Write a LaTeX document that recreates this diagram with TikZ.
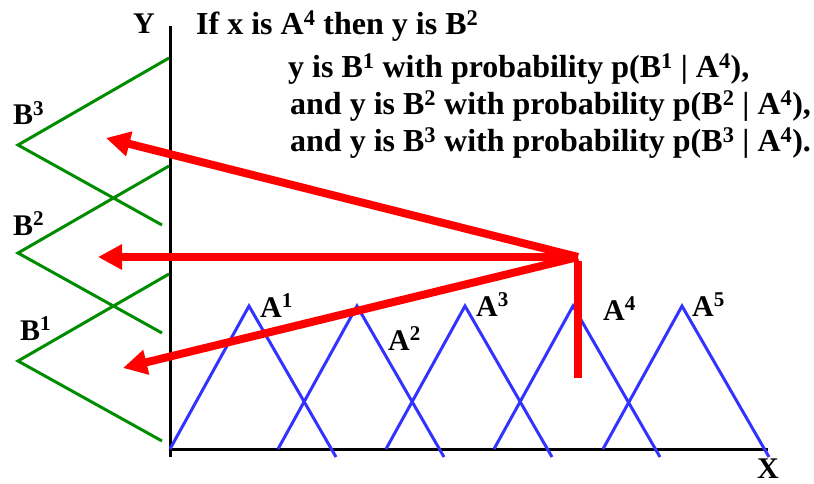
\documentclass[tikz,border=0pt]{standalone}
\usepackage{fontspec}
\setmainfont{Liberation Serif}
\usepackage{tikz}
\usetikzlibrary{arrows.meta, positioning}

\definecolor{setblue}{RGB}{51,51,255}
\definecolor{setgreen}{RGB}{0,140,0}

\tikzset{
    txt/.style={inner sep=0pt, anchor=base west, font=\bfseries\fontsize{32}{37}\selectfont},
    lbl/.style={inner sep=0pt, anchor=base west, font=\bfseries\fontsize{30}{34}\selectfont},
    axis/.style={line width=3pt},
    setA/.style={line width=3pt, setblue},
    setB/.style={line width=3pt, setgreen},
    redline/.style={line width=8pt, red},
    redarrow/.style={line width=8pt, red, -{Triangle[length=24pt, width=24pt]}}
}

\begin{document}
\begin{tikzpicture}[x=1pt, y=-1pt]
    \useasboundingbox (0,0) rectangle (814,484);
    % axes
    \draw[axis] (170,26) -- (170,457);
    \draw[axis] (170,449) -- (768,449);
    \node[lbl] (ylab) at (133,34) {Y};
    \node[lbl, anchor=north west] (xlab) at (757,459) {X};

    % fuzzy sets on x
    \foreach \p in {249,357,465,573,682}
        \draw[setA] (\p-79,449) -- (\p,306) -- (\p+87,457);
    \node[lbl] (A1) at (260,317) {A\textsuperscript{1}};
    \node[lbl] (A2) at (388,350) {A\textsuperscript{2}};
    \node[lbl] (A3) at (476,316) {A\textsuperscript{3}};
    \node[lbl] (A4) at (603,320) {A\textsuperscript{4}};
    \node[lbl] (A5) at (692,316) {A\textsuperscript{5}};

    % fuzzy sets on y
    \foreach \c in {145,253,361}
        \draw[setB] (169,\c-87) -- (18,\c) -- (162,\c+80);
    \node[lbl] (B3) at (13,125) {B\textsuperscript{3}};
    \node[lbl] (B2) at (13,235) {B\textsuperscript{2}};
    \node[lbl] (B1) at (20,340) {B\textsuperscript{1}};

    % rule text
    \node[txt] (rule) at (196,35) {If x is A\textsuperscript{4} then y is B\textsuperscript{2}};
    \node[txt] (prob1) at (288,78) {y is B\textsuperscript{1} with probability p(B\textsuperscript{1} | A\textsuperscript{4}),};
    \node[txt] (prob2) at (290,115) {and y is B\textsuperscript{2} with probability p(B\textsuperscript{2} | A\textsuperscript{4}),};
    \node[txt] (prob3) at (290,152) {and y is B\textsuperscript{3} with probability p(B\textsuperscript{3} | A\textsuperscript{4}).};

    % red arrows
    \coordinate (hub) at (578,257);
    \coordinate (foot) at (578,378);
    \coordinate (tipB3) at (106,138);
    \coordinate (tipB2) at (98,257);
    \coordinate (tipB1) at (123,368);
    \draw[redline] (foot) -- ([yshift=-4pt]hub);
    \foreach \t in {tipB3,tipB2,tipB1}
        \draw[redarrow] (hub) -- (\t);
\end{tikzpicture}
\end{document}
